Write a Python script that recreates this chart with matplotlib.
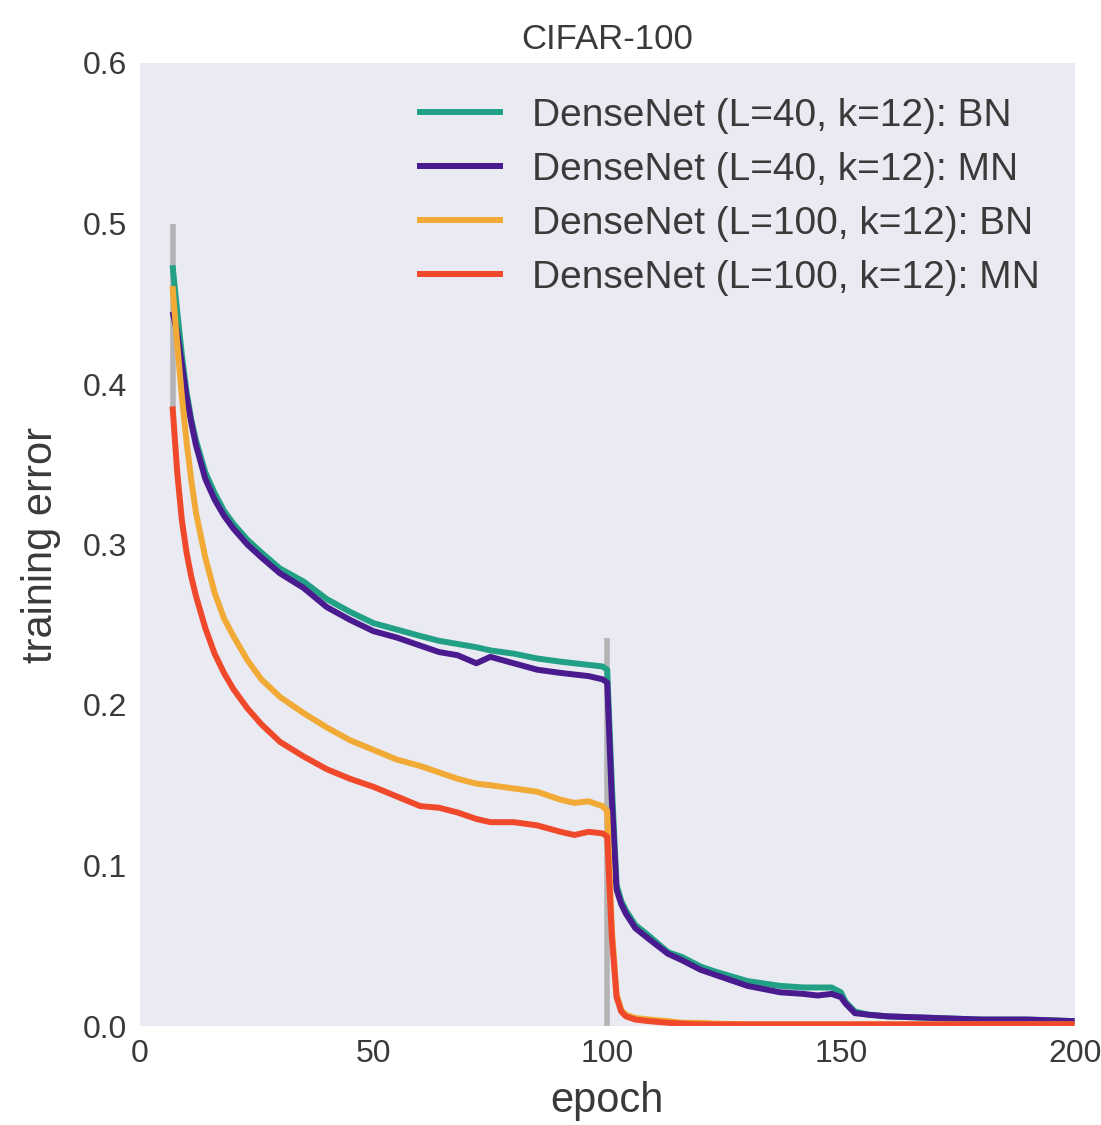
import matplotlib
matplotlib.use("Agg")
import matplotlib.pyplot as plt

epochs = [7, 8, 9, 10, 11, 12, 14, 16, 18, 20, 23, 26, 30, 35, 40, 45, 50,
          55, 60, 64, 68, 72, 75, 80, 85, 90, 93, 96, 99,
          100, 101, 102, 103, 104, 106, 109, 113, 116, 120, 123,
          130, 137, 142, 145, 148, 150, 151, 153, 156, 160, 170, 180, 190, 200]

dn40_bn = [0.474, 0.445, 0.418, 0.395, 0.378, 0.365, 0.345, 0.332, 0.321, 0.313, 0.303, 0.295, 0.285, 0.277, 0.266, 0.258, 0.251,
           0.247, 0.243, 0.240, 0.238, 0.236, 0.234, 0.232, 0.229, 0.227, 0.226, 0.225, 0.224,
           0.222, 0.150, 0.088, 0.078, 0.072, 0.063, 0.056, 0.046, 0.043, 0.037, 0.034,
           0.028, 0.025, 0.024, 0.024, 0.024, 0.021, 0.015, 0.009, 0.007, 0.006, 0.005, 0.004, 0.004, 0.003]

dn40_mn = [0.445, 0.432, 0.412, 0.392, 0.376, 0.362, 0.341, 0.328, 0.318, 0.310, 0.300, 0.292, 0.282, 0.273, 0.261, 0.253, 0.246,
           0.242, 0.237, 0.233, 0.231, 0.226, 0.230, 0.226, 0.222, 0.220, 0.219, 0.218, 0.216,
           0.214, 0.140, 0.085, 0.076, 0.070, 0.061, 0.054, 0.045, 0.041, 0.035, 0.032,
           0.025, 0.021, 0.020, 0.019, 0.020, 0.018, 0.014, 0.008, 0.007, 0.006, 0.005, 0.004, 0.004, 0.003]

dn100_bn = [0.461, 0.425, 0.392, 0.364, 0.340, 0.320, 0.292, 0.270, 0.254, 0.243, 0.228, 0.216, 0.205, 0.195, 0.186, 0.178, 0.172,
            0.166, 0.162, 0.158, 0.154, 0.151, 0.150, 0.148, 0.146, 0.141, 0.139, 0.140, 0.137,
            0.134, 0.060, 0.020, 0.010, 0.007, 0.005, 0.004, 0.003, 0.002, 0.002, 0.0015,
            0.001, 0.001, 0.001, 0.001, 0.001, 0.001, 0.001, 0.001, 0.001, 0.001, 0.001, 0.001, 0.001, 0.001]

dn100_mn = [0.386, 0.345, 0.315, 0.295, 0.280, 0.268, 0.248, 0.232, 0.220, 0.210, 0.198, 0.188, 0.177, 0.168, 0.160, 0.154, 0.149,
            0.143, 0.137, 0.136, 0.133, 0.129, 0.127, 0.127, 0.125, 0.121, 0.119, 0.121, 0.120,
            0.118, 0.055, 0.018, 0.009, 0.006, 0.004, 0.003, 0.002, 0.0015, 0.001, 0.001,
            0.001, 0.001, 0.001, 0.001, 0.001, 0.001, 0.001, 0.001, 0.001, 0.001, 0.001, 0.001, 0.001, 0.001]

labels = ["DenseNet (L=40, k=12): BN", "DenseNet (L=40, k=12): MN",
          "DenseNet (L=100, k=12): BN", "DenseNet (L=100, k=12): MN"]
colors = ["#22a085", "#4a1a8f", "#f0aa35", "#f0482b"]

# grey spread bands visible at steep drops
band_epochs = [7, 100]
band_low = [0.385, 0.0]
band_high = [0.50, 0.242]

xticks = [0, 50, 100, 150, 200]
yticks = [0.0, 0.1, 0.2, 0.3, 0.4, 0.5, 0.6]

plt.rcParams['font.family'] = ['Liberation Sans', 'DejaVu Sans']
text_color = '#3a3a3a'

fig = plt.figure(figsize=(11.01, 11.25), dpi=100)
ax = fig.add_axes([0.127, 0.088, 0.849, 0.856])
ax.set_facecolor('#EAEAF2')
for s in ax.spines.values():
    s.set_visible(False)

ax.vlines(band_epochs, band_low, band_high, colors='#888888', alpha=0.55, linewidth=4)

for ys, c, lab in zip([dn40_bn, dn40_mn, dn100_bn, dn100_mn], colors, labels):
    ax.plot(epochs, ys, color=c, lw=4.3, label=lab, solid_capstyle='butt',
            solid_joinstyle='round')

ax.set_xlim(0, 200)
ax.set_ylim(0, 0.6)
ax.set_xticks(xticks)
ax.set_yticks(yticks)
ax.set_xticklabels([str(t) for t in xticks])
ax.set_yticklabels([f"{t:.1f}" for t in yticks])
ax.tick_params(axis='both', length=0, labelsize=23, colors=text_color)
ax.tick_params(axis='x', pad=9)
ax.tick_params(axis='y', pad=9)

ax.set_xlabel("epoch", fontsize=30, color=text_color, labelpad=9)
ax.set_ylabel("training error", fontsize=30, color=text_color, labelpad=16)
ax.set_title("CIFAR-100", fontsize=25, color=text_color, pad=10)

leg = ax.legend(loc='upper right', frameon=False, fontsize=28,
                handlelength=2.2, handletextpad=0.75, labelspacing=0.46)
for t in leg.get_texts():
    t.set_color(text_color)

fig.savefig("out.png", dpi=100, facecolor='white')
